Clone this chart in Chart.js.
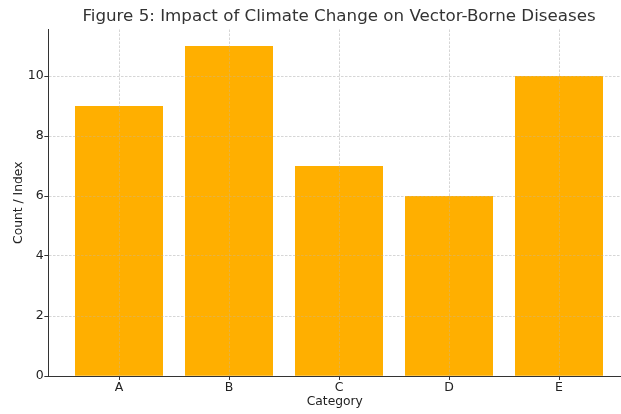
<!DOCTYPE html>
<html>
<head>
<meta charset="utf-8">
<script src="https://cdn.jsdelivr.net/npm/chart.js@4/dist/chart.umd.min.js"></script>
<style>
  html, body { margin: 0; padding: 0; background: #fff; overflow: hidden; }
  #wrap { width: 621px; height: 414px; }
</style>
</head>
<body>
<div id="wrap"><canvas id="chart" width="621" height="414"></canvas></div>
<script>
// values
const categories = ['A', 'B', 'C', 'D', 'E'];
const values = [9, 11, 7, 6, 10];
const yTicks = [0, 2, 4, 6, 8, 10];

const TITLE = 'Figure 5: Impact of Climate Change on Vector-Borne Diseases';
const FONT = "'DejaVu Sans', sans-serif";
const barColor = '#FFAF00';
const gridColor = 'rgba(185,185,185,0.6)';
const axisColor = '#333';

// grid goes over the bars (matplotlib-like), title centred over the axes
const overlay = {
  id: 'overlay',
  afterDatasetsDraw(chart) {
    const { x, y } = chart.scales;
    x.drawGrid(chart.chartArea);
    y.drawGrid(chart.chartArea);
    x.drawBorder();
    y.drawBorder();
  },
  afterDraw(chart) {
    const ctx = chart.ctx;
    const cx = chart.scales.x.getPixelForValue(2);
    ctx.save();
    ctx.font = '16.7px ' + FONT;
    ctx.fillStyle = '#333';
    ctx.textAlign = 'center';
    ctx.textBaseline = 'middle';
    ctx.fillText(TITLE, cx, 17);
    ctx.restore();
  }
};

new Chart(document.getElementById('chart'), {
  type: 'bar',
  data: {
    datasets: [{
      data: categories.map((c, i) => ({ x: i, y: values[i] })),
      backgroundColor: barColor,
      borderWidth: 0,
      barPercentage: 1,
      categoryPercentage: 0.8
    }]
  },
  options: {
    responsive: false,
    animation: false,
    layout: { padding: { top: 29.5, right: 0, bottom: 0, left: 0 } },
    plugins: {
      legend: { display: false },
      tooltip: { enabled: false },
      title: { display: false }
    },
    scales: {
      x: {
        type: 'linear',
        offset: false,
        min: -0.64,
        max: 4.5636,
        afterBuildTicks: (s) => { s.ticks = categories.map((_, i) => ({ value: i })); },
        afterFit: (s) => { s.height = 38; },
        ticks: {
          callback: (v) => categories[v],
          color: '#222',
          font: { family: FONT, size: 12.5 },
          padding: 0,
          maxRotation: 0
        },
        grid: { offset: false, color: gridColor, lineWidth: 0.6, tickLength: 4, tickColor: axisColor, tickWidth: 1 },
        border: { display: true, color: axisColor, width: 1, dash: [2.5, 1.5] },
        title: {
          display: true,
          text: 'Category',
          color: '#222',
          font: { family: FONT, size: 12.3 },
          padding: { top: 0, bottom: 5 }
        }
      },
      y: {
        min: 0,
        max: 11.55,
        afterBuildTicks: (s) => { s.ticks = yTicks.map(v => ({ value: v })); },
        afterFit: (s) => { s.width = 48.6; },
        ticks: {
          includeBounds: false,
          color: '#222',
          font: { family: FONT, size: 12.5 },
          padding: 1
        },
        grid: { color: gridColor, lineWidth: 0.6, tickLength: 4, tickColor: axisColor, tickWidth: 1 },
        border: { display: true, color: axisColor, width: 1, dash: [2.5, 1.5] },
        title: {
          display: true,
          text: 'Count / Index',
          color: '#222',
          font: { family: FONT, size: 12.3 },
          padding: { top: 11, bottom: 0 }
        }
      }
    }
  },
  plugins: [overlay]
});
</script>
</body>
</html>
